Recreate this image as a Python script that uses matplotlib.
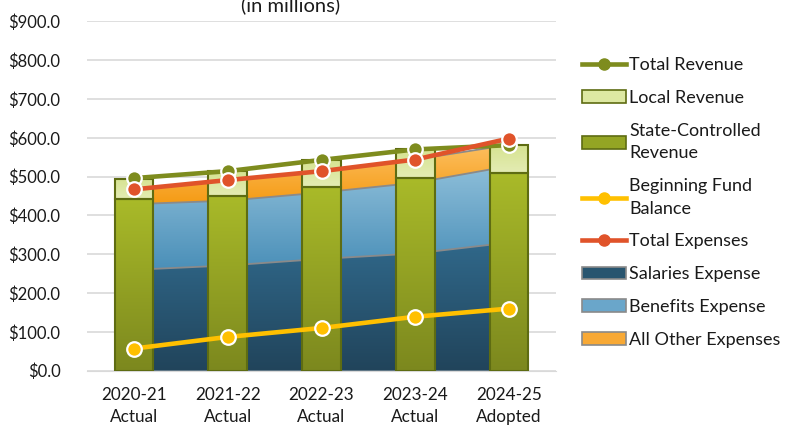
import numpy as np
import matplotlib
matplotlib.use("Agg")
import matplotlib.pyplot as plt
from matplotlib.colors import LinearSegmentedColormap
from matplotlib.patches import Patch
from matplotlib.lines import Line2D

plt.rcParams['font.family'] = ['Lato', 'DejaVu Sans']

# data (in millions)
years = ["2020-21\nActual", "2021-22\nActual", "2022-23\nActual", "2023-24\nActual", "2024-25\nAdopted"]
state_rev = [441, 451, 472, 496, 510]
local_rev = [54, 63, 71, 75, 71]
total_rev = [496, 514, 543, 570, 581]
fund_balance = [57, 87, 110, 139, 160]
total_exp = [467, 491, 514, 544, 598]
salaries = [260, 271, 288, 302, 330]
benefits = [169, 167, 171, 182, 197]
other_exp = [38, 53, 55, 60, 55]

x = np.arange(len(years))
W, H = 796, 428
fig = plt.figure(figsize=(W / 100, H / 100), dpi=100)
ax = fig.add_axes([87 / W, 1 - 370.7 / H, 469 / W, 349.4 / H])


def gradient(ax, clip, x0, x1, y0, y1, c_top, c_bot, z, transform=None):
    cmap = LinearSegmentedColormap.from_list('g', [c_bot, c_top])
    img = np.linspace(0, 1, 128).reshape(-1, 1)
    im = ax.imshow(img, cmap=cmap, extent=[x0, x1, y0, y1], origin='lower',
                   aspect='auto', zorder=z, interpolation='bilinear')
    if transform is None:
        im.set_clip_path(clip)
    else:
        im.set_clip_path(clip, transform=transform)


# expenses as stacked areas
sal = np.array(salaries)
ben = sal + np.array(benefits)
oth = ben + np.array(other_exp)
areas = [
    (np.zeros(5), sal, '#30688A', '#21445B'),
    (sal, ben, '#8DBED9', '#4A8FB8'),
    (ben, oth, '#FDBF60', '#F59B14'),
]
for lo, hi, ct, cb in areas:
    pc = ax.fill_between(x, lo, hi, facecolor='none', edgecolor='none', zorder=1)
    gradient(ax, pc.get_paths()[0], 0, 4, lo.min(), hi.max(), ct, cb, 1, ax.transData)
    ax.plot(x, hi, color='#8A8A8A', lw=1.3, zorder=1.5)

# revenue bars
bw = 0.41
b1 = ax.bar(x, state_rev, bw, facecolor='none', edgecolor='#5E6C12', lw=1.5, zorder=3)
b2 = ax.bar(x, local_rev, bw, bottom=state_rev, facecolor='none', edgecolor='#5E6C12', lw=1.5, zorder=3)
for i, r in enumerate(b1):
    gradient(ax, r, x[i] - bw / 2, x[i] + bw / 2, 0, state_rev[i], '#A9BA29', '#7C881E', 2.5)
for i, r in enumerate(b2):
    gradient(ax, r, x[i] - bw / 2, x[i] + bw / 2, state_rev[i], total_rev[i], '#D6E390', '#E4ECB4', 2.5)

# lines
mk = dict(marker='o', markersize=10.5, markeredgecolor='white', markeredgewidth=1.6, lw=3.3)
ax.plot(x, total_rev, color='#7E8C1E', zorder=5, **mk)
ax.plot(x, total_exp, color='#E0532A', zorder=6, **mk)
ax.plot(x, fund_balance, color='#FFC000', zorder=7, **mk)

ax.set_xlim(-0.5, 4.5)
ax.set_ylim(0, 900)
ax.set_yticks(np.arange(0, 901, 100))
ax.set_yticklabels(['$%.1f' % v for v in np.arange(0, 901, 100)])
ax.set_xticks(x)
ax.set_xticklabels(years, linespacing=1.45)
ax.grid(axis='y', color='#D9D9D9', lw=1.2, zorder=0)
ax.set_axisbelow(True)
for s in ['top', 'right', 'left']:
    ax.spines[s].set_visible(False)
ax.spines['bottom'].set_color('#D9D9D9')
ax.tick_params(axis='y', length=0, pad=19, labelsize=12, labelcolor='#1a1a1a')
ax.tick_params(axis='x', length=0, pad=12, labelsize=12.3, labelcolor='#1a1a1a')

fig.text(291 / W, 1 - 11 / H, "(in millions)", ha='center', va='baseline', fontsize=14.5, color='#1a1a1a')

lk = dict(marker='o', markersize=8, lw=3.3)
handles = [
    Line2D([], [], color='#7E8C1E', **lk),
    Patch(facecolor='#DDE8A2', edgecolor='#5E6C12', lw=1.2),
    Patch(facecolor='#94A524', edgecolor='#5E6C12', lw=1.2),
    Line2D([], [], color='#FFC000', **lk),
    Line2D([], [], color='#E0532A', **lk),
    Patch(facecolor='#28556F', edgecolor='#8A8A8A', lw=1.2),
    Patch(facecolor='#6AA6CA', edgecolor='#8A8A8A', lw=1.2),
    Patch(facecolor='#F8A935', edgecolor='#8A8A8A', lw=1.2),
]
labels = ['Total Revenue', 'Local Revenue', 'State-Controlled\nRevenue', 'Beginning Fund\nBalance',
          'Total Expenses', 'Salaries Expense', 'Benefits Expense', 'All Other Expenses']
leg = fig.legend(handles, labels, loc='upper left', bbox_to_anchor=(575 / W, 1 - 50 / H), frameon=False,
                 fontsize=13, handlelength=2.45, handletextpad=0.15, labelspacing=0.93, borderaxespad=0,
                 labelcolor='#1a1a1a')
for t in leg.get_texts():
    t.set_linespacing(1.5)

fig.savefig('out.png', dpi=100)
